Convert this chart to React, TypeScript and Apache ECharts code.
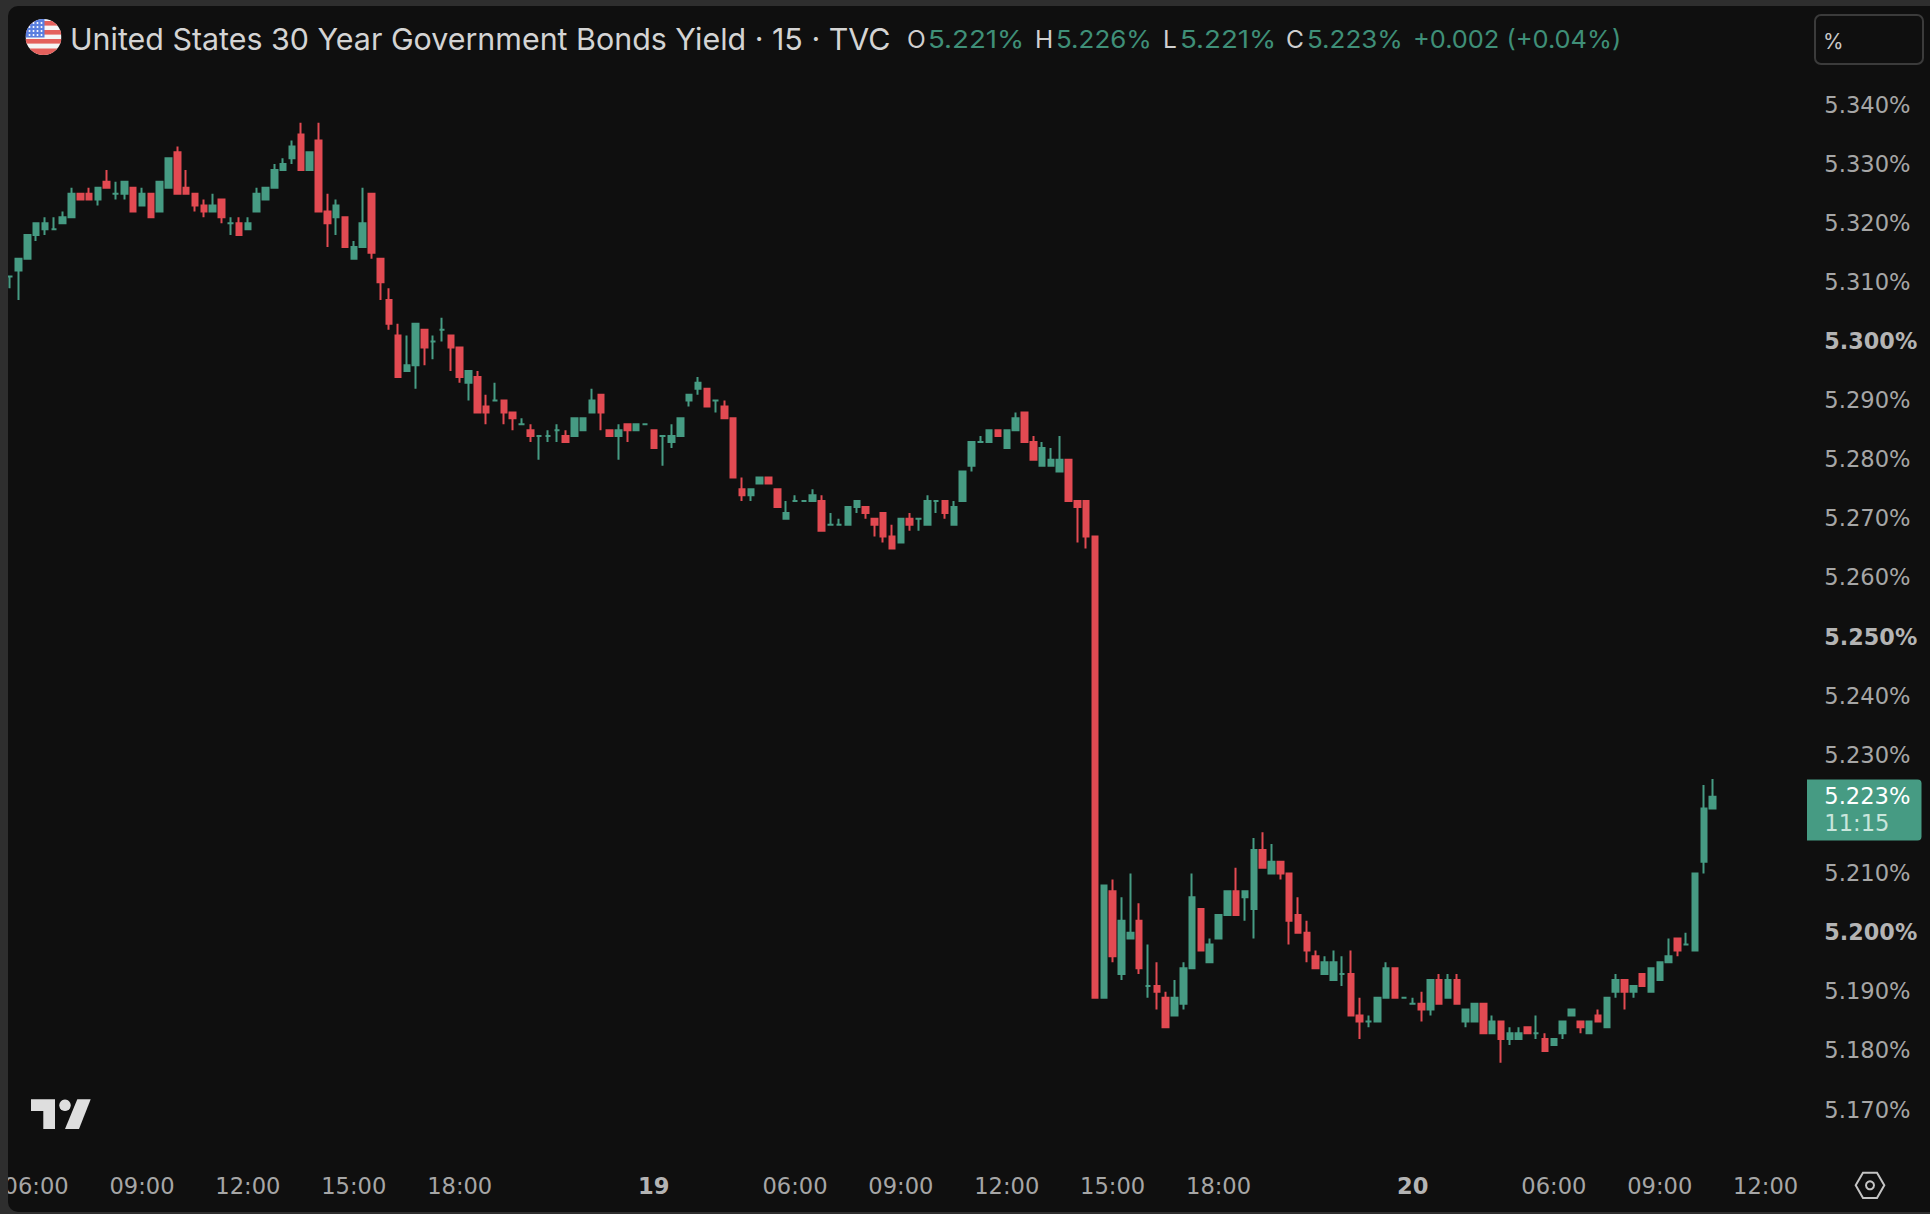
import React, { useEffect, useRef } from "react";
import * as echarts from "echarts";

const opens = [
  5.311, 5.312, 5.314, 5.318, 5.319, 5.319, 5.320, 5.321, 5.325, 5.325,
  5.324, 5.327, 5.325, 5.325, 5.326, 5.323, 5.325, 5.322, 5.326, 5.332,
  5.326, 5.325, 5.323, 5.322, 5.324, 5.320, 5.320, 5.319, 5.322, 5.324,
  5.326, 5.329, 5.331, 5.335, 5.329, 5.334, 5.322, 5.321, 5.321, 5.314,
  5.316, 5.325, 5.314, 5.307, 5.301, 5.295, 5.296, 5.302, 5.300, 5.302,
  5.301, 5.299, 5.293, 5.294, 5.289, 5.290, 5.290, 5.288, 5.286, 5.285,
  5.284, 5.284, 5.285, 5.284, 5.284, 5.285, 5.288, 5.291, 5.285, 5.284,
  5.286, 5.285, 5.286, 5.285, 5.284, 5.283, 5.284, 5.290, 5.292, 5.292,
  5.290, 5.289, 5.287, 5.275, 5.274, 5.276, 5.277, 5.275, 5.270, 5.273,
  5.273, 5.273, 5.273, 5.269, 5.269, 5.269, 5.272, 5.272, 5.270, 5.271,
  5.267, 5.266, 5.270, 5.270, 5.269, 5.273, 5.273, 5.269, 5.273, 5.279,
  5.283, 5.283, 5.285, 5.282, 5.285, 5.288, 5.283, 5.279, 5.279, 5.278,
  5.280, 5.273, 5.273, 5.267, 5.189, 5.207, 5.193, 5.199, 5.202, 5.191,
  5.191, 5.189, 5.186, 5.188, 5.194, 5.204, 5.195, 5.199, 5.203, 5.207,
  5.206, 5.204, 5.214, 5.210, 5.212, 5.210, 5.203, 5.200, 5.196, 5.193,
  5.192, 5.193, 5.193, 5.186, 5.185, 5.185, 5.189, 5.194, 5.189, 5.188,
  5.188, 5.187, 5.192, 5.189, 5.192, 5.185, 5.185, 5.188, 5.183, 5.185,
  5.182, 5.182, 5.184, 5.183, 5.182, 5.181, 5.183, 5.186, 5.185, 5.183,
  5.186, 5.184, 5.190, 5.192, 5.190, 5.193, 5.190, 5.192, 5.195, 5.199,
  5.198, 5.197, 5.212, 5.221,
];
const highs = [
  5.311, 5.314, 5.318, 5.320, 5.321, 5.321, 5.322, 5.326, 5.325, 5.326,
  5.326, 5.329, 5.327, 5.327, 5.326, 5.326, 5.325, 5.327, 5.331, 5.333,
  5.329, 5.325, 5.324, 5.325, 5.324, 5.321, 5.321, 5.321, 5.326, 5.326,
  5.330, 5.331, 5.334, 5.337, 5.332, 5.337, 5.325, 5.324, 5.321, 5.317,
  5.326, 5.325, 5.314, 5.309, 5.303, 5.301, 5.303, 5.302, 5.301, 5.304,
  5.301, 5.299, 5.295, 5.295, 5.291, 5.293, 5.290, 5.288, 5.287, 5.286,
  5.284, 5.285, 5.286, 5.285, 5.287, 5.287, 5.292, 5.291, 5.285, 5.286,
  5.286, 5.286, 5.286, 5.285, 5.284, 5.286, 5.287, 5.291, 5.294, 5.292,
  5.290, 5.290, 5.287, 5.277, 5.275, 5.277, 5.277, 5.275, 5.273, 5.274,
  5.273, 5.275, 5.274, 5.271, 5.270, 5.272, 5.273, 5.272, 5.270, 5.271,
  5.269, 5.270, 5.271, 5.270, 5.274, 5.273, 5.273, 5.273, 5.278, 5.283,
  5.284, 5.285, 5.285, 5.285, 5.288, 5.288, 5.284, 5.283, 5.282, 5.284,
  5.280, 5.273, 5.273, 5.267, 5.208, 5.209, 5.206, 5.210, 5.205, 5.198,
  5.195, 5.190, 5.192, 5.195, 5.210, 5.204, 5.199, 5.203, 5.207, 5.211,
  5.207, 5.216, 5.217, 5.215, 5.212, 5.210, 5.206, 5.202, 5.197, 5.196,
  5.197, 5.196, 5.197, 5.189, 5.186, 5.189, 5.195, 5.194, 5.189, 5.189,
  5.190, 5.192, 5.193, 5.193, 5.193, 5.187, 5.188, 5.188, 5.186, 5.185,
  5.184, 5.184, 5.184, 5.186, 5.183, 5.182, 5.185, 5.187, 5.185, 5.185,
  5.187, 5.189, 5.193, 5.192, 5.191, 5.193, 5.194, 5.195, 5.199, 5.199,
  5.200, 5.210, 5.225, 5.226,
];
const lows = [
  5.309, 5.307, 5.314, 5.317, 5.318, 5.319, 5.320, 5.321, 5.324, 5.324,
  5.323, 5.326, 5.324, 5.324, 5.322, 5.323, 5.321, 5.322, 5.326, 5.325,
  5.325, 5.322, 5.321, 5.322, 5.320, 5.318, 5.318, 5.319, 5.322, 5.324,
  5.326, 5.329, 5.330, 5.329, 5.329, 5.322, 5.316, 5.318, 5.316, 5.314,
  5.316, 5.314, 5.307, 5.302, 5.294, 5.295, 5.292, 5.296, 5.297, 5.300,
  5.295, 5.293, 5.290, 5.288, 5.286, 5.290, 5.286, 5.285, 5.286, 5.283,
  5.280, 5.283, 5.283, 5.283, 5.284, 5.285, 5.288, 5.285, 5.284, 5.280,
  5.283, 5.285, 5.286, 5.282, 5.279, 5.282, 5.284, 5.289, 5.291, 5.289,
  5.288, 5.287, 5.277, 5.273, 5.273, 5.276, 5.276, 5.272, 5.270, 5.273,
  5.273, 5.273, 5.268, 5.269, 5.269, 5.269, 5.271, 5.270, 5.267, 5.266,
  5.265, 5.266, 5.268, 5.268, 5.269, 5.271, 5.270, 5.269, 5.273, 5.278,
  5.283, 5.283, 5.284, 5.282, 5.285, 5.283, 5.280, 5.279, 5.279, 5.278,
  5.273, 5.266, 5.265, 5.189, 5.189, 5.195, 5.192, 5.199, 5.193, 5.189,
  5.187, 5.184, 5.186, 5.187, 5.194, 5.197, 5.195, 5.199, 5.203, 5.203,
  5.202, 5.199, 5.211, 5.210, 5.209, 5.198, 5.200, 5.195, 5.194, 5.193,
  5.192, 5.191, 5.186, 5.182, 5.184, 5.185, 5.189, 5.189, 5.189, 5.188,
  5.185, 5.186, 5.188, 5.189, 5.188, 5.184, 5.185, 5.183, 5.183, 5.178,
  5.181, 5.182, 5.183, 5.182, 5.180, 5.181, 5.182, 5.186, 5.183, 5.183,
  5.185, 5.184, 5.189, 5.187, 5.189, 5.191, 5.190, 5.192, 5.195, 5.196,
  5.198, 5.197, 5.210, 5.221,
];
const closes = [
  5.311, 5.314, 5.318, 5.320, 5.320, 5.319, 5.321, 5.325, 5.324, 5.324,
  5.326, 5.326, 5.325, 5.327, 5.322, 5.325, 5.321, 5.327, 5.331, 5.325,
  5.325, 5.323, 5.322, 5.323, 5.321, 5.320, 5.318, 5.320, 5.325, 5.326,
  5.329, 5.330, 5.333, 5.329, 5.332, 5.322, 5.320, 5.323, 5.316, 5.316,
  5.320, 5.315, 5.310, 5.303, 5.294, 5.296, 5.303, 5.299, 5.300, 5.302,
  5.299, 5.294, 5.295, 5.288, 5.288, 5.290, 5.288, 5.287, 5.286, 5.284,
  5.284, 5.284, 5.285, 5.283, 5.287, 5.287, 5.290, 5.288, 5.284, 5.285,
  5.285, 5.286, 5.286, 5.282, 5.284, 5.284, 5.287, 5.291, 5.293, 5.289,
  5.290, 5.287, 5.277, 5.274, 5.275, 5.277, 5.276, 5.272, 5.271, 5.273,
  5.273, 5.274, 5.268, 5.269, 5.269, 5.272, 5.273, 5.271, 5.269, 5.267,
  5.265, 5.270, 5.269, 5.270, 5.273, 5.273, 5.271, 5.272, 5.278, 5.283,
  5.283, 5.285, 5.284, 5.285, 5.287, 5.283, 5.280, 5.282, 5.280, 5.280,
  5.273, 5.272, 5.267, 5.189, 5.208, 5.196, 5.202, 5.200, 5.194, 5.191,
  5.190, 5.184, 5.189, 5.194, 5.206, 5.197, 5.198, 5.203, 5.207, 5.203,
  5.207, 5.214, 5.211, 5.212, 5.210, 5.202, 5.200, 5.197, 5.194, 5.195,
  5.195, 5.193, 5.186, 5.185, 5.185, 5.189, 5.194, 5.189, 5.189, 5.188,
  5.187, 5.192, 5.188, 5.192, 5.188, 5.187, 5.188, 5.183, 5.185, 5.182,
  5.183, 5.183, 5.183, 5.183, 5.180, 5.182, 5.185, 5.187, 5.184, 5.185,
  5.185, 5.189, 5.192, 5.190, 5.191, 5.191, 5.194, 5.195, 5.196, 5.197,
  5.198, 5.210, 5.221, 5.223,
];

const timeTickIndexes = [3, 15, 27, 39, 51, 73, 89, 101, 113, 125, 137, 159, 175, 187, 199];
const timeTickLabels = ["06:00", "09:00", "12:00", "15:00", "18:00", "19", "06:00", "09:00", "12:00", "15:00", "18:00", "20", "06:00", "09:00", "12:00"];
const boldTimeTicks = ["19", "20"];
const boldPrices = ["5.300", "5.250", "5.200"];
const hiddenPrices = ["5.220"];
const categoryCount = 204;

const title = "United States 30 Year Government Bonds Yield · 15 · TVC";
const ohlcLetters = ["O", "H", "L", "C"];
const ohlcValues = ["5.221%", "5.226%", "5.221%", "5.223%"];
const change = "+0.002 (+0.04%)";
const lastPrice = "5.223%";
const countdown = "11:15";

const GREEN = "#469b83";
const RED = "#e24a52";
const BG = "#0f0f0f";
const FRAME = "#2e2e2e";
const FONT = "Inter, 'Noto Sans', sans-serif";
const AXIS_FONT = "'DejaVu Sans', Inter, sans-serif";
const AXIS_SIZE = 22.6;

const flagDots = [3, 7, 11, 15]
  .flatMap((x) => [4, 8, 12, 16].map((y) => `<circle cx='${x + 1}' cy='${y}' r='1' fill='#fff'/>`))
  .join("");
const flagSvg =
  "data:image/svg+xml;utf8," +
  encodeURIComponent(
    `<svg xmlns='http://www.w3.org/2000/svg' width='72' height='72' viewBox='0 0 36 36'><defs><clipPath id='c'><circle cx='18' cy='18' r='18'/></clipPath></defs><g clip-path='url(#c)'><rect width='36' height='36' fill='#f5f5f5'/><rect y='2' width='36' height='4.6' fill='#e4605c'/><rect y='11' width='36' height='4.6' fill='#e4605c'/><rect y='20' width='36' height='4.6' fill='#e4605c'/><rect y='29.5' width='36' height='7' fill='#e4605c'/><rect width='19' height='18.5' fill='#5a7fe0'/>${flagDots}</g></svg>`
  );

function txt(x: number, y: number, text: string, fill: string, fontSize: number, extra: any = {}) {
  return {
    type: "text",
    x,
    y,
    z: 20,
    scaleX: extra.scaleX || 1,
    style: { text, fill, font: `${extra.weight || 400} ${fontSize}px ${extra.font || FONT}`, textVerticalAlign: "middle", textAlign: "left" },
  };
}

export default function App() {
  const ref = useRef<HTMLDivElement>(null);
  useEffect(() => {
    document.body.style.margin = "0";
    const chart = echarts.init(ref.current!, undefined, { renderer: "svg" });
    const cats = Array.from({ length: categoryCount }, (_, i) => {
      const k = timeTickIndexes.indexOf(i);
      return k >= 0 ? timeTickLabels[k] : "";
    });
    const data = opens.map((o, i) => [o, closes[i], lows[i], highs[i]]);
    const ohlcX = [907, 1035, 1163, 1286];
    const ohlcValX = [928, 1056, 1180, 1307];
    const ohlcScale = [1.13, 1.06, 1.13, 1.06];
    chart.setOption({
      animation: false,
      backgroundColor: FRAME,
      grid: { left: 5.26, top: 45.88, width: 1800.1, height: 1123.3, containLabel: false },
      xAxis: {
        type: "category",
        data: cats,
        boundaryGap: true,
        axisLine: { show: false },
        axisTick: { show: false },
        splitLine: { show: false },
        axisLabel: {
          interval: (i: number) => timeTickIndexes.includes(i),
          margin: 5,
          color: "#a6a6a6",
          fontFamily: AXIS_FONT,
          fontSize: AXIS_SIZE,
          formatter: (v: string) => (boldTimeTicks.includes(v) ? `{b|${v}}` : v),
          rich: { b: { fontFamily: AXIS_FONT, fontSize: AXIS_SIZE, fontWeight: 700, color: "#b4b4b4" } },
        },
      },
      yAxis: {
        type: "value",
        position: "right",
        min: 5.16,
        max: 5.35,
        interval: 0.01,
        scale: true,
        axisLine: { show: false },
        axisTick: { show: false },
        splitLine: { show: false },
        axisLabel: {
          margin: 19,
          color: "#a6a6a6",
          fontFamily: AXIS_FONT,
          fontSize: AXIS_SIZE,
          showMinLabel: false,
          showMaxLabel: false,
          padding: [0, 0, 1, 0],
          formatter: (v: number) => {
            const s = v.toFixed(3);
            if (hiddenPrices.includes(s)) return "";
            return boldPrices.includes(s) ? `{b|${s}%}` : `${s}%`;
          },
          rich: { b: { fontFamily: AXIS_FONT, fontSize: 22.3, fontWeight: 700, color: "#b4b4b4" } },
        },
      },
      series: [
        {
          type: "candlestick",
          data,
          barWidth: 6,
          itemStyle: {
            color: GREEN,
            color0: RED,
            borderColor: GREEN,
            borderColor0: RED,
            borderColorDoji: GREEN,
            borderWidth: 2,
          },
        },
      ],
      graphic: [
        { type: "rect", z: -1, silent: true, shape: { x: 8, y: 6, width: 1930, height: 1206, r: [10, 0, 0, 10] }, style: { fill: BG } },
        { type: "rect", z: 10, silent: true, shape: { x: 0, y: 0, width: 8, height: 1214 }, style: { fill: FRAME } },
        { type: "image", z: 20, style: { image: flagSvg, x: 25.5, y: 19, width: 36, height: 36 } },
        txt(70, 38.5, title, "#d4d4d4", 30.4),
        ...ohlcLetters.map((l, i) => txt(ohlcX[i], 39, l, "#d0d0d0", 24.5)),
        ...ohlcValues.map((v, i) => txt(ohlcValX[i], 39, v, "#3f8f78", 24.5, { scaleX: ohlcScale[i] })),
        txt(1413, 39, change, "#3f8f78", 24.5, { scaleX: 1.037 }),
        { type: "rect", z: 20, shape: { x: 1815, y: 15, width: 108, height: 49, r: 6 }, style: { fill: "none", stroke: "#3b3b3b", lineWidth: 2 } },
        txt(1823, 41.5, "%", "#c8c8c8", 21),
        { type: "rect", z: 20, shape: { x: 1807, y: 779.5, width: 114.5, height: 61, r: [0, 4, 4, 0] }, style: { fill: GREEN } },
        txt(1824.3, 796, lastPrice, "#ffffff", AXIS_SIZE, { font: AXIS_FONT }),
        txt(1824.3, 823, countdown, "#c9e6dc", AXIS_SIZE, { font: AXIS_FONT }),
        { type: "polygon", z: 20, shape: { points: [[31, 1099.3], [55, 1099.3], [55, 1129], [43.3, 1129], [43.3, 1111], [31, 1111]] }, style: { fill: "#dedede" } },
        { type: "circle", z: 20, shape: { cx: 65, cy: 1105.3, r: 5.7 }, style: { fill: "#dedede" } },
        { type: "polygon", z: 20, shape: { points: [[77.3, 1099.3], [90.7, 1099.3], [79, 1129], [65, 1129]] }, style: { fill: "#dedede" } },
        { type: "polygon", z: 20, shape: { points: [[1855.7, 1185.3], [1863, 1172.7], [1877, 1172.7], [1884.3, 1185.3], [1877, 1198], [1863, 1198]] }, style: { fill: "none", stroke: "#c4c4c4", lineWidth: 2 } },
        { type: "circle", z: 20, shape: { cx: 1870, cy: 1185.3, r: 4 }, style: { fill: "none", stroke: "#c4c4c4", lineWidth: 2 } },
      ],
    });
    return () => chart.dispose();
  }, []);
  return <div ref={ref} style={{ position: "fixed", left: 0, top: 0, width: 1930, height: 1214 }} />;
}
